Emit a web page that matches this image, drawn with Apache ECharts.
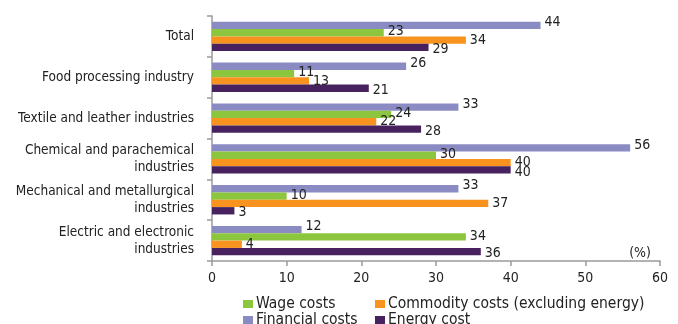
<!DOCTYPE html>
<html>
<head>
<meta charset="utf-8">
<script src="https://cdn.jsdelivr.net/npm/echarts@6/dist/echarts.min.js"></script>
<style>
  html, body { margin: 0; padding: 0; background: #fff; }
  #chart { width: 678px; height: 324px; }
</style>
</head>
<body>
<div id="chart"></div>
<script>
// Industry categories, top to bottom
var categories = [
  'Total',
  'Food processing industry',
  'Textile and leather industries',
  'Chemical and parachemical\nindustries',
  'Mechanical and metallurgical\nindustries',
  'Electric and electronic\nindustries'
];

// Cost shares per industry (%)
var financialCosts = [44, 26, 33, 56, 33, 12];
var wageCosts      = [23, 11, 24, 30, 10, 34];
var commodityCosts = [34, 13, 22, 40, 37, 4];
var energyCosts    = [29, 21, 28, 40, 3, 36];

var xTicks = [0, 10, 20, 30, 40, 50, 60];

var FONT = "'DejaVu Sans Condensed', 'DejaVu Sans', sans-serif";
var TEXT = '#222';

var COLORS = {
  financial: '#8b8bc4',
  wage: '#8cc63f',
  commodity: '#f7931e',
  energy: '#47225e'
};

function barSeries(name, values, color, labelShiftY) {
  return {
    name: name,
    type: 'bar',
    data: values,
    barGap: '0%',
    barCategoryGap: '28%',
    itemStyle: { color: color },
    label: {
      show: true,
      position: 'right',
      distance: 4,
      offset: [0, labelShiftY],
      color: TEXT,
      fontFamily: FONT,
      fontSize: 14
    }
  };
}

function legendItem(name, left, top) {
  return {
    data: [name],
    left: left,
    top: top,
    orient: 'horizontal',
    icon: 'rect',
    itemWidth: 10,
    itemHeight: 8,
    itemGap: 0,
    selectedMode: false,
    textStyle: { fontFamily: FONT, fontSize: 15.5, color: TEXT, padding: [0, 0, 0, -2] }
  };
}

var chart = echarts.init(document.getElementById('chart'), null, { renderer: 'canvas' });

chart.setOption({
  animation: false,
  backgroundColor: '#fff',
  textStyle: { fontFamily: FONT },
  title: {
    text: '(%)',
    right: 22,
    top: 241,
    textStyle: { fontFamily: FONT, fontSize: 14, fontWeight: 'normal', color: TEXT }
  },
  legend: [
    legendItem('Wage costs', 238, 291),
    legendItem('Commodity costs (excluding energy)', 370, 291),
    legendItem('Financial costs', 238, 307),
    legendItem('Energy cost', 370, 307)
  ],
  grid: { left: 212, right: 18, top: 16, bottom: 63, containLabel: false, outerBoundsMode: 'none' },
  xAxis: {
    type: 'value',
    min: xTicks[0],
    max: xTicks[xTicks.length - 1],
    interval: 10,
    splitLine: { show: false },
    axisLine: { show: true, lineStyle: { color: '#9a9a9a', width: 1.5 } },
    axisTick: { show: true, length: 5, lineStyle: { color: '#9a9a9a', width: 1.5 } },
    axisLabel: { color: TEXT, fontFamily: FONT, fontSize: 14, margin: 10 }
  },
  yAxis: {
    type: 'category',
    data: categories,
    inverse: true,
    axisLine: { show: true, lineStyle: { color: '#9a9a9a', width: 1.5 } },
    axisTick: { show: true, length: 5, lineStyle: { color: '#9a9a9a', width: 1.5 } },
    axisLabel: {
      color: TEXT, fontFamily: FONT, fontSize: 13.5, lineHeight: 17,
      margin: 18, align: 'right', padding: [6, 0, 0, 0]
    }
  },
  series: [
    barSeries('Financial costs', financialCosts, COLORS.financial, -3),
    barSeries('Wage costs', wageCosts, COLORS.wage, -1),
    barSeries('Commodity costs (excluding energy)', commodityCosts, COLORS.commodity, 0),
    barSeries('Energy cost', energyCosts, COLORS.energy, 2)
  ]
});
</script>
</body>
</html>
